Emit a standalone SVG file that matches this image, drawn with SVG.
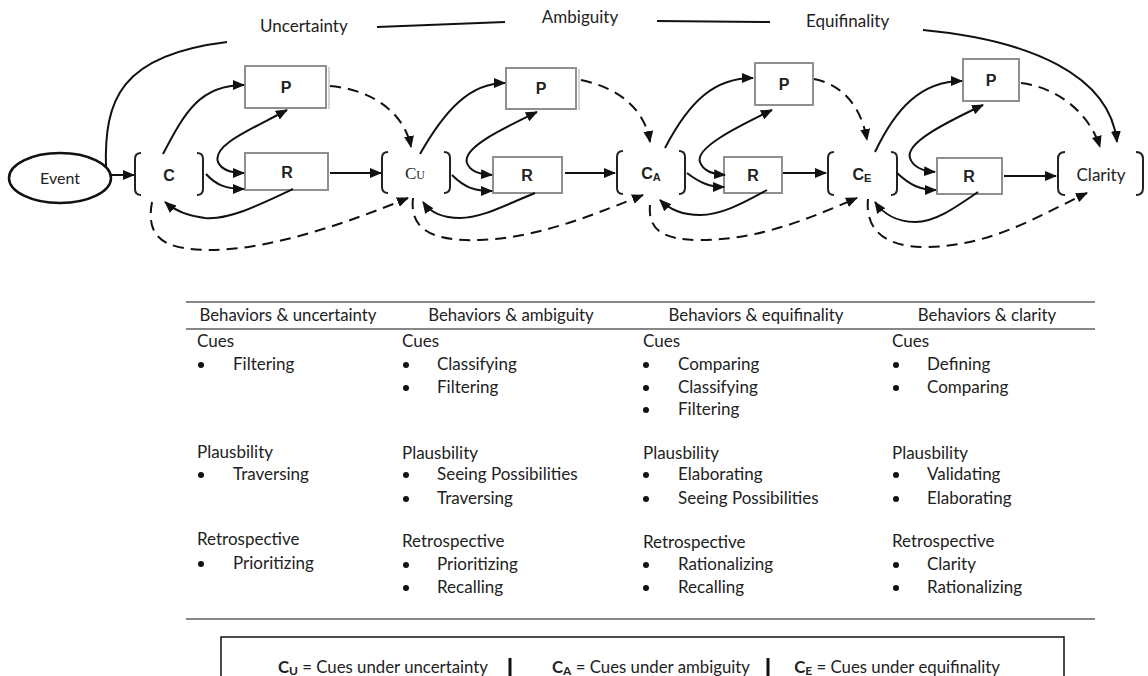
<svg xmlns="http://www.w3.org/2000/svg" width="1148" height="676" viewBox="0 0 1148 676">
<defs>
<marker id="ah" viewBox="0 0 12 10" refX="11" refY="5" markerWidth="12" markerHeight="10" markerUnits="userSpaceOnUse" orient="auto-start-reverse">
<path d="M0,0 L12,5 L0,10 z" fill="#111"/>
</marker>
<style>
.t{font-family:Lato,"Liberation Sans",sans-serif;fill:#222}
.lbl{font-size:17px}
.b{font-family:"Liberation Sans",Arial,sans-serif;font-weight:bold;fill:#222}
.box{fill:#fff;stroke:#8f8f8f;stroke-width:2}
.shadow{fill:none;stroke:#c8c8c8;stroke-width:1.5}
.br{fill:none;stroke:#222;stroke-width:2}
.s{fill:none;stroke:#111;stroke-width:2}
.d{fill:none;stroke:#111;stroke-width:2;stroke-dasharray:11 7}
.a{marker-end:url(#ah)}
.a2{marker-start:url(#ah);marker-end:url(#ah)}
.hd{font-size:16.8px;text-anchor:middle}
.cell{font-size:17px}
.rule{stroke:#111;stroke-width:1.2}
.leg{font-size:16.8px}
</style>
</defs>

<g id="top-labels">
<text class="t lbl" x="260" y="32">Uncertainty</text>
<text class="t lbl" x="580" y="23" text-anchor="middle">Ambiguity</text>
<text class="t lbl" x="806" y="27">Equifinality</text>
</g>

<g id="event">
<ellipse cx="60" cy="178" rx="51" ry="25" fill="#fff" stroke="#111" stroke-width="2.5"/>
<text class="t" x="60" y="184" font-size="16" text-anchor="middle">Event</text>
</g>

<g id="C">
<path class="br" d="M141,153 Q135,153 135,159 L135,189 Q135,195 141,195"/>
<path class="br" d="M197,153 Q203,153 203,159 L203,189 Q203,195 197,195"/>
<text class="b" x="169" y="181" font-size="16" text-anchor="middle">C</text>
</g>
<g id="P1">
<line class="shadow" x1="329" y1="67" x2="329" y2="109"/>
<rect class="box" x="245" y="66" width="81" height="42"/>
<text class="b" x="286" y="93" font-size="16" text-anchor="middle">P</text>
</g>
<g id="R1">
<rect class="box" x="245" y="153" width="83" height="37"/>
<text class="b" x="287" y="178" font-size="16" text-anchor="middle">R</text>
</g>

<g id="CU">
<path class="br" d="M388,152 Q382,152 382,158 L382,187 Q382,193 388,193"/>
<path class="br" d="M444,152 Q450,152 450,158 L450,187 Q450,193 444,193"/>
<text x="415" y="179" text-anchor="middle" font-family="'Liberation Serif',serif" fill="#222"><tspan font-size="17">C</tspan><tspan font-size="12">U</tspan></text>
</g>
<g id="P2">
<line class="shadow" x1="579" y1="69" x2="579" y2="110"/>
<rect class="box" x="506" y="68" width="70" height="41"/>
<text class="b" x="541" y="94" font-size="16" text-anchor="middle">P</text>
</g>
<g id="R2">
<rect class="box" x="493" y="157" width="69" height="36"/>
<text class="b" x="527" y="181" font-size="16" text-anchor="middle">R</text>
</g>

<g id="CA">
<path class="br" d="M623,151 Q617,151 617,157 L617,188 Q617,194 623,194"/>
<path class="br" d="M679,151 Q685,151 685,157 L685,188 Q685,194 679,194"/>
<text class="b" x="651" y="179" text-anchor="middle"><tspan font-size="16">C</tspan><tspan font-size="11" dy="2">A</tspan></text>
</g>
<g id="P3">
<rect class="box" x="755" y="63" width="58" height="42"/>
<text class="b" x="784" y="90" font-size="16" text-anchor="middle">P</text>
</g>
<g id="R3">
<rect class="box" x="724" y="157" width="58" height="36"/>
<text class="b" x="753" y="181" font-size="16" text-anchor="middle">R</text>
</g>

<g id="CE">
<path class="br" d="M834,152 Q828,152 828,158 L828,189 Q828,195 834,195"/>
<path class="br" d="M891,152 Q897,152 897,158 L897,189 Q897,195 891,195"/>
<text class="b" x="862" y="180" text-anchor="middle"><tspan font-size="16">C</tspan><tspan font-size="11" dy="2">E</tspan></text>
</g>
<g id="P4">
<rect class="box" x="963" y="59" width="56" height="42"/>
<text class="b" x="991" y="86" font-size="16" text-anchor="middle">P</text>
</g>
<g id="R4">
<rect class="box" x="937" y="158" width="65" height="36"/>
<text class="b" x="969" y="182" font-size="16" text-anchor="middle">R</text>
</g>

<g id="clarity">
<path class="br" d="M1065,152 Q1058,152 1058,159 L1058,188 Q1058,195 1065,195"/>
<path class="br" d="M1136,152 Q1143,152 1143,159 L1143,188 Q1143,195 1136,195"/>
<text class="t lbl" x="1101" y="181" text-anchor="middle">Clarity</text>
</g>

<g id="connectors">
<path class="s" d="M106,168 C104,100 120,55 227,42"/>
<path class="s" d="M377,27 L505,22"/>
<path class="s" d="M657,21 L770,22"/>
<path class="s a" d="M923,30 C1030,40 1110,75 1117,142"/>

<path class="s a" d="M111,175 L134,175"/>
<path class="s a" d="M163,154 C185,112 200,85 244,85"/>
<path class="s a2" d="M287,110 C250,130 212,145 218,162 C222,171 232,173 244,173"/>
<path class="s a" d="M206,174 C216,185 226,189 244,189"/>
<path class="s a" d="M293,189 C255,207 228,220 205,218 C188,216 174,210 165,202"/>
<path class="s a" d="M330,173 L381,173"/>
<path class="d a" d="M152,202 C146,235 160,250 210,250 C270,250 350,222 408,198"/>
<path class="d a" d="M330,86 C375,90 405,115 411,147"/>

<path class="s a" d="M420,154 C445,110 470,83 505,83"/>
<path class="s a2" d="M537,112 C500,130 462,148 467,163 C470,171 478,174 492,175"/>
<path class="s a" d="M452,175 C465,188 475,191 492,191"/>
<path class="s a" d="M535,193 C505,205 482,218 460,218 C442,218 430,212 423,202"/>
<path class="s a" d="M565,173 L615,173"/>
<path class="d a" d="M413,198 C410,225 425,242 480,240 C540,238 600,212 643,195"/>
<path class="d a" d="M581,80 C620,88 645,110 650,142"/>

<path class="s a" d="M665,148 C690,100 715,78 753,78"/>
<path class="s a2" d="M772,110 C735,128 695,148 700,162 C703,171 712,174 725,175"/>
<path class="s a" d="M687,173 C700,183 710,187 724,187"/>
<path class="s a" d="M767,190 C740,205 720,215 700,215 C680,215 668,208 660,200"/>
<path class="s a" d="M783,173 L826,173"/>
<path class="d a" d="M650,205 C648,228 660,240 700,240 C760,240 810,218 857,198"/>
<path class="d a" d="M814,79 C845,85 862,110 867,140"/>

<path class="s a" d="M875,152 C895,110 920,81 962,81"/>
<path class="s a2" d="M983,105 C945,123 905,143 910,158 C913,167 922,171 935,172"/>
<path class="s a" d="M897,173 C910,185 920,190 936,190"/>
<path class="s a" d="M978,192 C955,208 935,222 915,222 C895,222 882,212 875,202"/>
<path class="s a" d="M1004,176 L1056,176"/>
<path class="d a" d="M868,199 C865,230 885,247 925,247 C990,247 1040,215 1087,193"/>
<path class="d a" d="M1021,83 C1060,88 1090,115 1100,147"/>
</g>

<g id="table">
<line class="rule" x1="186" y1="302" x2="1095" y2="302"/>
<line class="rule" x1="186" y1="329" x2="1095" y2="329"/>
<line class="rule" x1="186" y1="619" x2="1095" y2="619"/>
<text class="t hd" x="288" y="321">Behaviors &amp; uncertainty</text>
<text class="t hd" x="511" y="321">Behaviors &amp; ambiguity</text>
<text class="t hd" x="756" y="321">Behaviors &amp; equifinality</text>
<text class="t hd" x="987" y="321">Behaviors &amp; clarity</text>

<g class="t cell">
<text x="197" y="347">Cues</text>
<text x="233" y="370">Filtering</text>
<text x="197" y="458">Plausbility</text>
<text x="233" y="480">Traversing</text>
<text x="197" y="545">Retrospective</text>
<text x="233" y="569">Prioritizing</text>

<text x="402" y="347">Cues</text>
<text x="437" y="370">Classifying</text>
<text x="437" y="393">Filtering</text>
<text x="402" y="459">Plausbility</text>
<text x="437" y="480">Seeing Possibilities</text>
<text x="437" y="504">Traversing</text>
<text x="402" y="547">Retrospective</text>
<text x="437" y="570">Prioritizing</text>
<text x="437" y="593">Recalling</text>

<text x="643" y="347">Cues</text>
<text x="678" y="370">Comparing</text>
<text x="678" y="393">Classifying</text>
<text x="678" y="415">Filtering</text>
<text x="643" y="459">Plausbility</text>
<text x="678" y="480">Elaborating</text>
<text x="678" y="504">Seeing Possibilities</text>
<text x="643" y="548">Retrospective</text>
<text x="678" y="570">Rationalizing</text>
<text x="678" y="593">Recalling</text>

<text x="892" y="347">Cues</text>
<text x="927" y="370">Defining</text>
<text x="927" y="393">Comparing</text>
<text x="892" y="459">Plausbility</text>
<text x="927" y="480">Validating</text>
<text x="927" y="504">Elaborating</text>
<text x="892" y="547">Retrospective</text>
<text x="927" y="570">Clarity</text>
<text x="927" y="593">Rationalizing</text>
</g>

<g fill="#111">
<circle cx="201" cy="365" r="3"/>
<circle cx="201" cy="475" r="3"/>
<circle cx="201" cy="564" r="3"/>
<circle cx="406" cy="365" r="3"/>
<circle cx="406" cy="388" r="3"/>
<circle cx="406" cy="475" r="3"/>
<circle cx="406" cy="499" r="3"/>
<circle cx="406" cy="565" r="3"/>
<circle cx="406" cy="588" r="3"/>
<circle cx="646" cy="365" r="3"/>
<circle cx="646" cy="388" r="3"/>
<circle cx="646" cy="410" r="3"/>
<circle cx="646" cy="475" r="3"/>
<circle cx="646" cy="499" r="3"/>
<circle cx="646" cy="565" r="3"/>
<circle cx="646" cy="588" r="3"/>
<circle cx="896" cy="365" r="3"/>
<circle cx="896" cy="388" r="3"/>
<circle cx="896" cy="475" r="3"/>
<circle cx="896" cy="499" r="3"/>
<circle cx="896" cy="565" r="3"/>
<circle cx="896" cy="588" r="3"/>
</g>
</g>

<g id="legend">
<rect x="221" y="637" width="843" height="60" fill="none" stroke="#111" stroke-width="1.5"/>
<line x1="510" y1="658" x2="510" y2="676" stroke="#111" stroke-width="3"/>
<line x1="768" y1="658" x2="768" y2="676" stroke="#111" stroke-width="3"/>
<text class="t leg" x="488" y="673" text-anchor="end"><tspan font-weight="bold">C</tspan><tspan font-weight="bold" font-size="12" dy="2">U</tspan><tspan dy="-2"> = Cues under uncertainty</tspan></text>
<text class="t leg" x="750" y="673" text-anchor="end"><tspan font-weight="bold">C</tspan><tspan font-weight="bold" font-size="12" dy="2">A</tspan><tspan dy="-2"> = Cues under ambiguity</tspan></text>
<text class="t leg" x="1000" y="673" text-anchor="end"><tspan font-weight="bold">C</tspan><tspan font-weight="bold" font-size="12" dy="2">E</tspan><tspan dy="-2"> = Cues under equifinality</tspan></text>
</g>
</svg>
